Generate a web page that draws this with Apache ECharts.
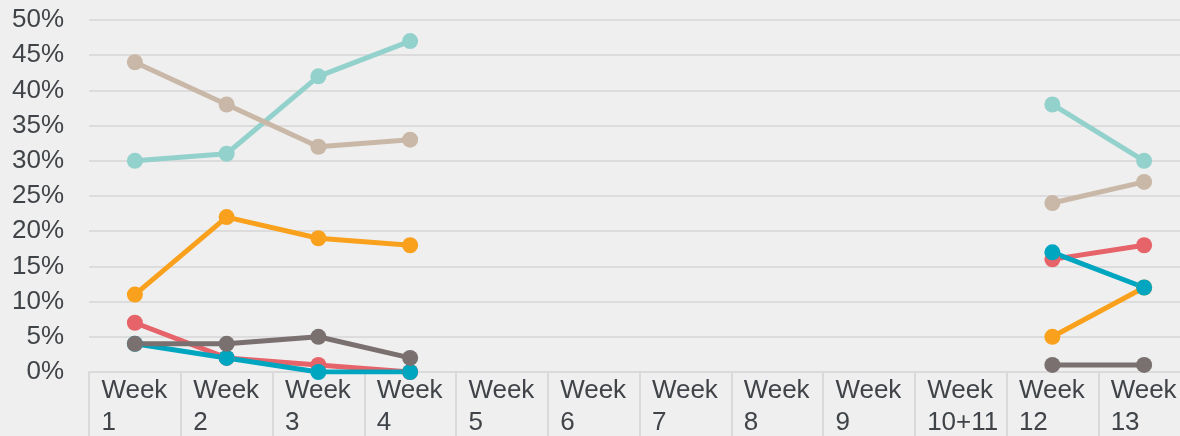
<!DOCTYPE html>
<html>
<head>
<meta charset="utf-8">
<script src="https://cdn.jsdelivr.net/npm/echarts@6/dist/echarts.min.js"></script>
<style>
	html, body { margin: 0; padding: 0; background: #efefef; }
	#chart { width: 1180px; height: 436px; }
</style>
</head>
<body>
<div id="chart"></div>
<script>
	var weeks = ['Week\n1', 'Week\n2', 'Week\n3', 'Week\n4', 'Week\n5', 'Week\n6', 'Week\n7', 'Week\n8', 'Week\n9', 'Week\n10+11', 'Week\n12', 'Week\n13'];
	var lightTeal = [30, 31, 42, 47, null, null, null, null, null, null, 38, 30];
	var tan = [44, 38, 32, 33, null, null, null, null, null, null, 24, 27];
	var orange = [11, 22, 19, 18, null, null, null, null, null, null, 5, 12];
	var red = [7, 2, 1, 0, null, null, null, null, null, null, 16, 18];
	var darkTeal = [4, 2, 0, 0, null, null, null, null, null, null, 17, 12];
	var gray = [4, 4, 5, 2, null, null, null, null, null, null, 1, 1];

	var font = 'Liberation Sans, Arial, sans-serif';
	var textColor = '#404448';

	function line(name, data, color) {
		return {
			name: name,
			type: 'line',
			data: data,
			color: color,
			symbol: 'circle',
			symbolSize: 16,
			lineStyle: { width: 5, color: color },
			itemStyle: { color: color },
			connectNulls: false,
			animation: false
		};
	}

	var chart = echarts.init(document.getElementById('chart'));
	chart.setOption({
		backgroundColor: '#efefef',
		grid: { left: 89, right: -10, top: 20, bottom: 64, outerBoundsMode: 'none', containLabel: false },
		xAxis: {
			type: 'category',
			data: weeks,
			boundaryGap: true,
			axisLine: { show: true, lineStyle: { color: '#dadada', width: 2 } },
			axisTick: { show: true, interval: 0, length: 66, lineStyle: { color: '#dadada', width: 2 } },
			axisLabel: {
				interval: 0,
				margin: 3,
				width: 67,
				align: 'center',
				fontFamily: font,
				fontSize: 26,
				color: textColor,
				lineHeight: 32,
				formatter: function (v) {
					return v.split('\n').map(function (s) { return '{a|' + s + '}'; }).join('\n');
				},
				rich: { a: { align: 'left', fontSize: 26, lineHeight: 32, color: textColor, fontFamily: font } }
			}
		},
		yAxis: {
			type: 'value',
			min: 0,
			max: 50,
			interval: 5,
			axisLine: { show: false },
			axisTick: { show: false },
			splitLine: { lineStyle: { color: '#dcdcdc', width: 2 } },
			axisLabel: {
				formatter: '{value}%',
				margin: 25,
				fontFamily: font,
				fontSize: 26,
				color: textColor
			}
		},
		series: [
			line('A', lightTeal, '#93d1cc'),
			line('B', tan, '#c9b8a7'),
			line('C', orange, '#f9a11c'),
			line('D', red, '#e6636a'),
			line('E', darkTeal, '#00a5bf'),
			line('F', gray, '#7a7070')
		]
	});
</script>
</body>
</html>
